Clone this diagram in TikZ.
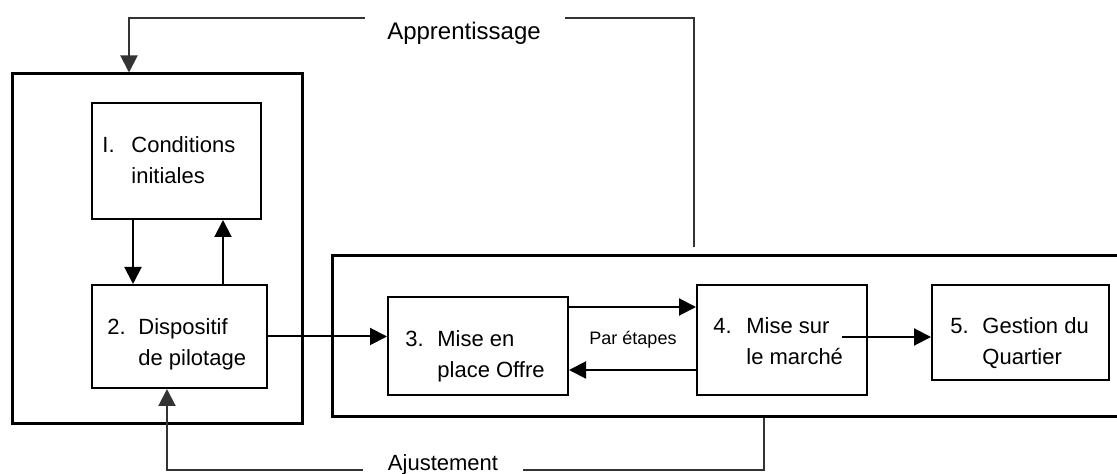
\documentclass[tikz,border=0pt]{standalone}
\usepackage{fontspec}
\setmainfont{Liberation Sans}
\usetikzlibrary{arrows.meta,fit}
\newcommand{\twolines}[2]{\begin{tabular}[t]{@{}l@{}}#1\\#2\end{tabular}}
\begin{document}
\begin{tikzpicture}[x=0.5pt,y=-0.5pt,
  outerbox/.style={draw, line width=1.5pt, inner sep=0pt},
  stepbox/.style={draw, line width=1pt, inner sep=0pt},
  conn/.style={line width=1pt, -{Triangle[length=8.5pt,width=8.5pt]}},
  fb/.style={line width=1pt, draw=black!80},
  num/.style={font=\fontsize{11}{15.5}\selectfont, anchor=base west, inner sep=0pt},
  txt/.style={font=\fontsize{11}{15.5}\selectfont, anchor=base west, inner sep=0pt},
  biglbl/.style={font=\fontsize{12}{14}\selectfont, inner sep=0pt},
  smalllbl/.style={font=\fontsize{9}{11}\selectfont, inner sep=0pt},
]
\clip (0,0) rectangle (1117,474);
% outer boxes
\node[outerbox, fit={(12,74) (302,424)}] (ob1) {};
\node[outerbox, fit={(332,256) (1135,417)}] (ob2) {};
% step boxes
\node[stepbox, fit={(92,103) (261,219)}] (b1) {};
\node[stepbox, fit={(92,285) (267,388)}] (b2) {};
\node[stepbox, fit={(388,297) (568,395)}] (b3) {};
\node[stepbox, fit={(697,285) (867,395)}] (b4) {};
\node[stepbox, fit={(932,285) (1109,380)}] (b5) {};
% texts
\node[num] (n1) at (102,153) {I.};
\node[txt] (t1) at (131,153) {\twolines{Conditions}{initiales}};
\node[num] (n2) at (107,335) {2.};
\node[txt] (t2) at (138,335) {\twolines{Dispositif}{de pilotage}};
\node[num] (n3) at (405,347) {3.};
\node[txt] (t3) at (437,347) {\twolines{Mise en}{place Offre}};
\node[num] (n4) at (713,334) {4.};
\node[txt] (t4) at (746,334) {\twolines{Mise sur}{le marché}};
\node[num] (n5) at (950,334) {5.};
\node[txt] (t5) at (982,334) {\twolines{Gestion du}{Quartier}};
\node[smalllbl] (pe) at (633,340) {Par étapes};
\node[biglbl] (appr) at (464,33) {Apprentissage};
\node[biglbl, font=\fontsize{11}{13}\selectfont] (ajus) at (443,465) {Ajustement};
% connectors
\draw[conn] (b1.south -| 133,0) -- (b2.north -| 133,0);
\draw[conn] (b2.north -| 223,0) -- (b1.south -| 223,0);
\draw[conn] (b2.east) -- (b3.west |- b2.east);
\draw[conn] (b3.east |- 0,307) -- (b4.west |- 0,307);
\draw[conn] (b4.west |- 0,370) -- (b3.east |- 0,370);
\coordinate (c45) at (842,337);
\draw[conn] (c45) -- (b5.west |- c45);
% feedback loops
\coordinate (apR) at (565,18);
\coordinate (apL) at (365,18);
\draw[fb, shorten <=3.5pt] (ob2.north -| 694,0) |- (apR);
\draw[fb, -{Triangle[length=8.5pt,width=8.5pt]}] (apL) -| (ob1.north -| 129,0);
\coordinate (ajR) at (523,470);
\coordinate (ajL) at (363,470);
\draw[fb] (ob2.south -| 764,0) |- (ajR);
\draw[fb, -{Triangle[length=8.5pt,width=8.5pt]}] (ajL) -| (b2.south -| 167,0);
\end{tikzpicture}
\end{document}
